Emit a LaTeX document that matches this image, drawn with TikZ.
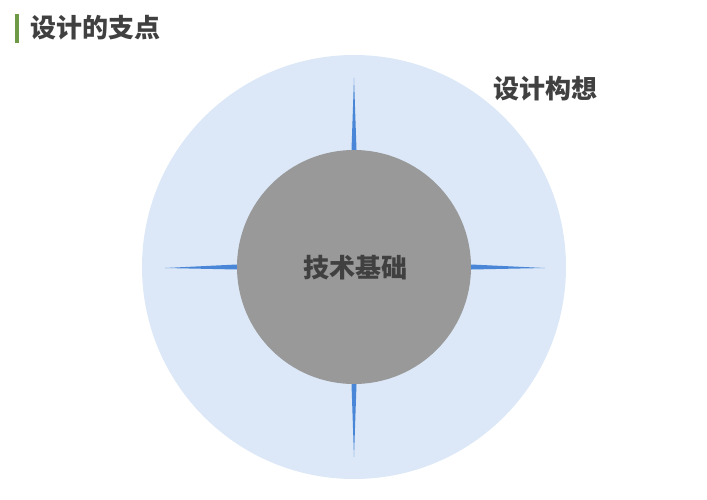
\documentclass[tikz,border=0pt]{standalone}
\usepackage{fontspec}
\newfontfamily\cjk{Noto Sans CJK SC}
\definecolor{ideablue}{HTML}{DCE8F7}
\definecolor{basegray}{HTML}{999999}
\definecolor{spikeblue}{HTML}{4A86D8}
\definecolor{textgray}{HTML}{404040}
\definecolor{bargreen}{HTML}{6E9A48}
\begin{document}
\begin{tikzpicture}[x=1pt,y=-1pt,ring/.style={circle,inner sep=0pt},word/.style={font=\cjk\bfseries\fontsize{26}{26}\selectfont,text=textgray,inner sep=0pt},spike/.style={fill=spikeblue}]
\useasboundingbox (0,0) rectangle (707,500);
\begin{scope}
\fill[bargreen] (15,14) rectangle (19,43);
\node[word,anchor=west] (title) at (30,28) {设计的支点};
\end{scope}
\begin{scope}
\node[ring,fill=ideablue,minimum size=424pt] (idea) at (354,267) {};
\node[ring,fill=basegray,minimum size=234pt] (base) at (354,267) {};
\node[word] (ideatext) at (545,89) {设计构想};
\node[word] (basetext) at (355,268) {技术基础};
\end{scope}
\begin{scope}
\coordinate (tipN) at (354,78);
\coordinate (tipS) at (354,457);
\coordinate (tipW) at (165,268);
\coordinate (tipE) at (545,268);
\fill[spike] ([xshift=-2.5pt]base.north) -- (tipN) -- ([xshift=2.5pt]base.north) -- cycle;
\fill[spike] ([xshift=-2.5pt]base.south) -- (tipS) -- ([xshift=2.5pt]base.south) -- cycle;
\fill[spike] ([yshift=-2.5pt]base.west) -- (tipW) -- ([yshift=2.5pt]base.west) -- cycle;
\fill[spike] ([yshift=-2.5pt]base.east) -- (tipE) -- ([yshift=2.5pt]base.east) -- cycle;
\end{scope}
\end{tikzpicture}
\end{document}
